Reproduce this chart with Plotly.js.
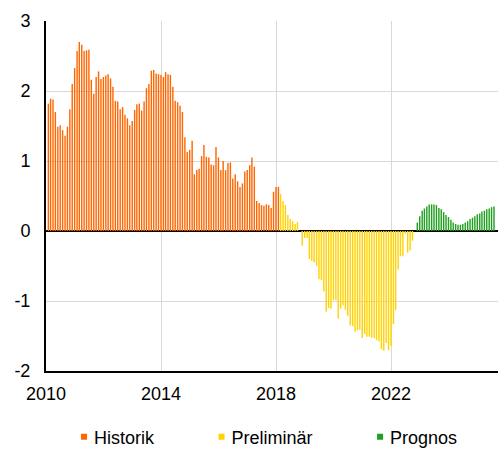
<!DOCTYPE html>
<html><head><meta charset="utf-8">
<script src="https://cdn.plot.ly/plotly-3.0.1.min.js"></script>
<style>
html,body{margin:0;padding:0;background:#fff;overflow:hidden;width:498px;height:449px}
#wrap{width:498px;height:449px;overflow:hidden;position:relative}
#chart{width:996px;height:898px;transform:scale(0.5);transform-origin:0 0;position:absolute;left:0;top:0}
</style>
</head><body><div id="wrap"><div id="chart"></div></div>
<script>
const startYear = 2010;
const seriesNames = ['Historik', 'Preliminär', 'Prognos'];
const seriesColors = ['#ff6600', '#ffd200', '#1fa01f'];
// Monthly values from Jan 2010
const historik = [
  1.82, 1.89, 1.88, 1.70, 1.49, 1.51, 1.44, 1.36, 1.49, 1.74, 2.10, 2.33,
  2.57, 2.70, 2.66, 2.57, 2.58, 2.59, 2.16, 1.96, 2.20, 2.28, 2.17, 2.20,
  2.22, 2.24, 2.18, 2.06, 1.86, 1.85, 1.74, 1.77, 1.66, 1.61, 1.51, 1.57,
  1.73, 1.81, 1.82, 1.72, 1.85, 2.04, 2.10, 2.29, 2.30, 2.25, 2.24, 2.23,
  2.20, 2.27, 2.24, 2.23, 2.06, 1.86, 1.84, 1.79, 1.70, 1.34, 1.13, 1.16,
  1.29, 0.81, 0.87, 0.89, 1.07, 1.23, 1.06, 1.05, 0.95, 0.94, 1.20, 1.05,
  0.87, 1.00, 0.87, 0.97, 0.98, 0.75, 0.81, 0.71, 0.63, 0.68, 0.85, 0.87,
  0.94, 1.05, 0.92, 0.43, 0.40, 0.37, 0.36, 0.38, 0.37, 0.33, 0.56, 0.63,
  0.63
];
const preliminar = [
  0.53, 0.43, 0.37, 0.23, 0.17, 0.14, 0.10, 0.13, 0.00,
  -0.21, -0.10, -0.10, -0.40, -0.43, -0.45, -0.50, -0.69, -0.70, -0.86,
  -1.15, -1.10, -1.11, -0.99, -0.99, -1.25, -1.11, -1.06, -1.13, -1.21,
  -1.35, -1.36, -1.44, -1.42, -1.41, -1.53, -1.47, -1.51, -1.51, -1.52,
  -1.53, -1.56, -1.58, -1.69, -1.71, -1.60, -1.70, -1.64, -1.33, -1.13,
  -0.55, -0.36, -0.36, -0.04, -0.31, -0.28, -0.14, 0.00
];
const prognos = [
  0.12, 0.21, 0.29, 0.32, 0.35, 0.38, 0.38, 0.38, 0.37, 0.33, 0.31, 0.27,
  0.23, 0.20, 0.16, 0.12, 0.10, 0.09, 0.09, 0.10, 0.12, 0.14, 0.17, 0.19,
  0.21, 0.24, 0.25, 0.28, 0.29, 0.31, 0.32, 0.34, 0.35
];
const xTickVals = ['2010-01-01', '2014-01-01', '2018-01-01', '2022-01-01'];
const xTickLabels = ['2010', '2014', '2018', '2022'];
const yTickVals = [-2, -1, 0, 1, 2, 3];
const yTickLabels = ['-2', '-1', '0', '1', '2', '3'];

// drawn at 2x and scaled down by CSS so the thin monthly bars keep their true width
const S = 2;
function monthEnd(i) {
  const d = new Date(Date.UTC(startYear, i + 1, 0));
  return d.toISOString().slice(0, 10);
}
function monthDates(offset, n) {
  return Array.from({length: n}, (_, k) => monthEnd(offset + k));
}
const DAY = 86400000;
const barWidth = 18 * DAY;
const pad = '\u00a0'.repeat(11);
const all = [historik, preliminar, prognos];
let offset = 0;
const traces = all.map((vals, i) => {
  const t = {
    type: 'bar',
    name: seriesNames[i] + (i < 2 ? pad : ''),
    x: monthDates(offset, vals.length),
    y: vals,
    width: barWidth,
    marker: {color: seriesColors[i], line: {width: 0}},
    hoverinfo: 'x+y'
  };
  offset += vals.length;
  return t;
});

const layout = {
  width: 498 * S, height: 449 * S,
  margin: {l: 46 * S, r: 0, t: 21 * S, b: 78 * S, pad: 0, autoexpand: false},
  paper_bgcolor: '#ffffff', plot_bgcolor: '#ffffff',
  font: {family: 'Arial, "Liberation Sans", sans-serif', size: 18 * S, color: '#000000'},
  barmode: 'overlay',
  showlegend: true,
  legend: {orientation: 'h', x: 0.489, xanchor: 'center', y: -0.188, yanchor: 'middle',
           font: {size: 18 * S, color: '#000000'}, traceorder: 'normal', bgcolor: 'rgba(0,0,0,0)',
           borderwidth: 0},
  xaxis: {type: 'date', range: ['2010-01-01', '2025-09-20'],
          tickmode: 'array', tickvals: xTickVals, ticktext: xTickLabels,
          showgrid: true, gridcolor: '#d9d9d9', gridwidth: 1 * S,
          showline: true, linecolor: '#000000', linewidth: 2 * S,
          ticks: '', ticklabelstandoff: 5 * S, zeroline: false, fixedrange: true},
  yaxis: {range: [-2, 3], tickmode: 'array', tickvals: yTickVals, ticktext: yTickLabels,
          showgrid: true, gridcolor: '#d9d9d9', gridwidth: 1 * S,
          zeroline: true, zerolinecolor: '#000000', zerolinewidth: 2 * S,
          showline: true, linecolor: '#000000', linewidth: 2 * S,
          ticks: '', ticklabelstandoff: 10 * S, fixedrange: true}
};
Plotly.newPlot('chart', traces, layout, {displayModeBar: false, responsive: false});
</script>
</body></html>
